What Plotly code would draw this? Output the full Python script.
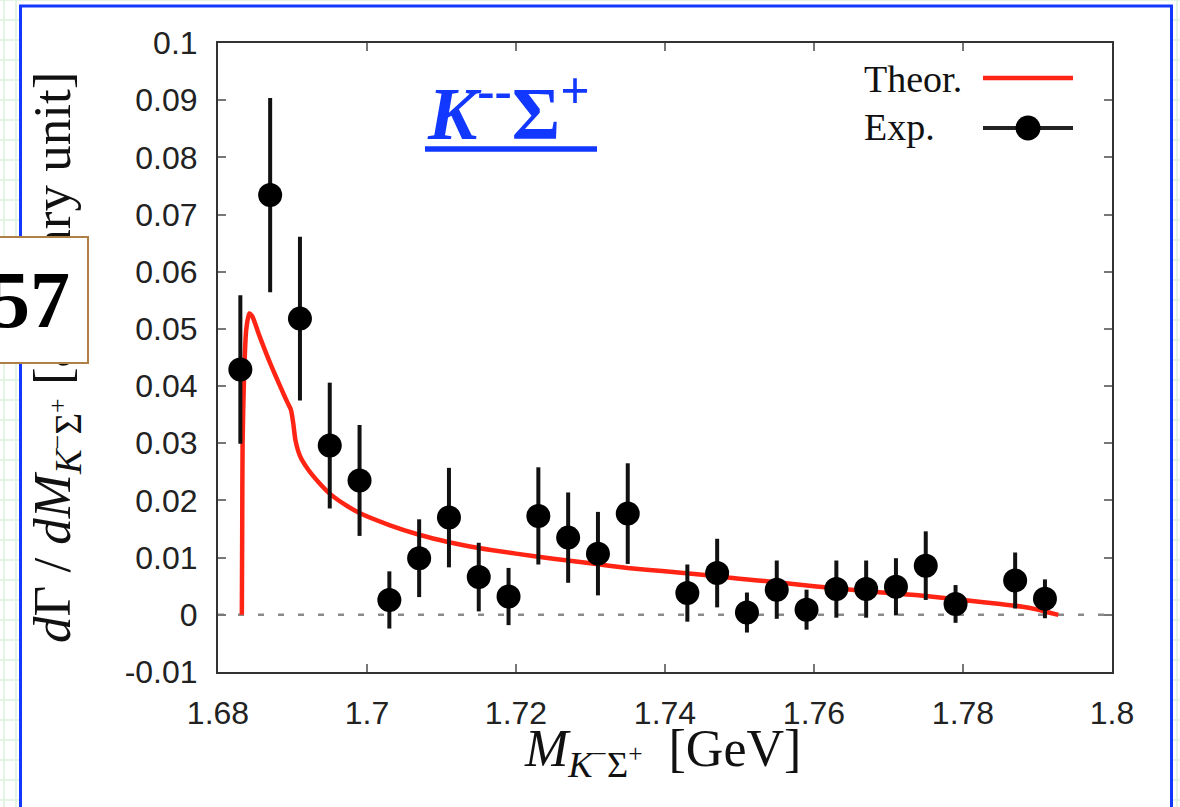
import plotly.graph_objects as go

# ---------------- data ----------------
exp_mass = [1.683, 1.687, 1.691, 1.695, 1.699, 1.703, 1.707, 1.711, 1.715, 1.719,
            1.723, 1.727, 1.731, 1.735, 1.743, 1.747, 1.751, 1.755, 1.759, 1.763,
            1.767, 1.771, 1.775, 1.779, 1.787, 1.791]
exp_value = [0.0429, 0.0734, 0.0518, 0.0296, 0.0235, 0.0026, 0.0099, 0.0170, 0.0066, 0.0032,
             0.0173, 0.0135, 0.0107, 0.0177, 0.0038, 0.0073, 0.0004, 0.0044, 0.0009, 0.0045,
             0.0045, 0.0049, 0.0086, 0.0019, 0.0060, 0.0028]
exp_error = [0.0130, 0.0170, 0.0143, 0.0110, 0.0097, 0.0050, 0.0068, 0.0087, 0.0060, 0.0050,
             0.0085, 0.0079, 0.0073, 0.0088, 0.0050, 0.0060, 0.0035, 0.0051, 0.0035, 0.0050,
             0.0050, 0.0050, 0.0060, 0.0033, 0.0049, 0.0034]

theor_mass = [1.6832, 1.68325, 1.6833, 1.6835, 1.6838, 1.6842, 1.6846, 1.6855, 1.6870, 1.6885,
              1.6893, 1.6898, 1.6901, 1.6904, 1.6910, 1.6920, 1.6935, 1.6950, 1.6970, 1.6990,
              1.7030, 1.7070, 1.7110, 1.7150, 1.7200, 1.7250, 1.7300, 1.7350, 1.7400, 1.7450,
              1.7500, 1.7550, 1.7600, 1.7650, 1.7700, 1.7750, 1.7800, 1.7850, 1.7880, 1.7900,
              1.7915, 1.7928]
theor_value = [0.0, 0.015, 0.030, 0.042, 0.050, 0.0527, 0.0522, 0.0490, 0.0440, 0.0395,
               0.0372, 0.0358, 0.0335, 0.0305, 0.0278, 0.0256, 0.0232, 0.0212, 0.0193, 0.0178,
               0.0157, 0.0140, 0.0127, 0.0117, 0.0107, 0.0098, 0.0090, 0.0082, 0.0076, 0.0070,
               0.0063, 0.0057, 0.0050, 0.0044, 0.0038, 0.0033, 0.0026, 0.0019, 0.0014, 0.0009,
               0.0004, 0.0]

x_ticks = [1.68, 1.70, 1.72, 1.74, 1.76, 1.78, 1.80]
x_tick_labels = ["1.68", "1.7", "1.72", "1.74", "1.76", "1.78", "1.8"]
y_ticks = [-0.01, 0.0, 0.01, 0.02, 0.03, 0.04, 0.05, 0.06, 0.07, 0.08, 0.09, 0.10]
y_tick_labels = ["-0.01", "0", "0.01", "0.02", "0.03", "0.04", "0.05", "0.06", "0.07", "0.08", "0.09", "0.1"]

# ---------------- layout geometry ----------------
W, H = 1180, 807
L, R, T, B = 218, 1112, 43, 672   # plot area in pixels


def px(xp):
    return (xp - L) / (R - L)


def py(yp):
    return (B - yp) / (B - T)


BLUE = "#1238ff"
RED = "#ff2414"

fig = go.Figure()

fig.add_trace(go.Scatter(
    x=theor_mass, y=theor_value, mode="lines", name="Theor.",
    line=dict(color=RED, width=4.5, shape="spline", smoothing=0.6),
    showlegend=False, hoverinfo="skip"))

fig.add_trace(go.Scatter(
    x=exp_mass, y=exp_value, mode="markers", name="Exp.",
    marker=dict(color="black", size=24),
    error_y=dict(type="data", array=exp_error, visible=True,
                 color="#111111", thickness=4, width=0),
    showlegend=False))

shapes = []
# faint graph-paper background
for yy in range(0, H + 1, 20):
    shapes.append(dict(type="line", xref="paper", yref="paper", layer="below",
                       x0=px(0), x1=px(W), y0=py(yy), y1=py(yy),
                       line=dict(color="#dcf2dc", width=1.5)))
for xx in [4, 16, 1177]:
    shapes.append(dict(type="line", xref="paper", yref="paper", layer="below",
                       x0=px(xx), x1=px(xx), y0=py(0), y1=py(H),
                       line=dict(color="#dcf2dc", width=1.5)))
# white slide frame with blue border
shapes.append(dict(type="rect", xref="paper", yref="paper", layer="below",
                   x0=px(20.5), x1=px(1171.5), y0=py(815), y1=py(6),
                   fillcolor="white", line=dict(color=BLUE, width=3)))
# zero dashed line
shapes.append(dict(type="line", xref="paper", yref="y", layer="below",
                   x0=0, x1=1, y0=0, y1=0,
                   line=dict(color="#8a8a8a", width=2.5, dash="6px,14px")))
# title underline
shapes.append(dict(type="line", xref="paper", yref="paper", layer="above",
                   x0=px(425), x1=px(597), y0=py(149), y1=py(149),
                   line=dict(color=BLUE, width=5.5)))
# legend samples
shapes.append(dict(type="line", xref="paper", yref="paper", layer="above",
                   x0=px(983), x1=px(1073), y0=py(78), y1=py(78),
                   line=dict(color=RED, width=4.5)))
shapes.append(dict(type="line", xref="paper", yref="paper", layer="above",
                   x0=px(983), x1=px(1073), y0=py(128), y1=py(128),
                   line=dict(color="#222222", width=4)))
shapes.append(dict(type="circle", xref="paper", yref="paper", layer="above",
                   xsizemode="pixel", ysizemode="pixel",
                   xanchor=px(1028), yanchor=py(128),
                   x0=-12.5, x1=12.5, y0=-12.5, y1=12.5,
                   fillcolor="black", line=dict(color="black", width=0)))

annotations = [
    # y-axis title
    dict(xref="paper", yref="paper", x=px(56), y=py(358), xanchor="center", yanchor="middle",
         textangle=-90, showarrow=False,
         text="<i>d</i>Γ / <i>dM</i><sub><i>K</i><sup>−</sup>Σ<sup>+</sup></sub> [arbitrary unit]",
         font=dict(family="Liberation Serif", size=53, color="#111111")),
    # x-axis title
    dict(xref="paper", yref="paper", x=px(662), y=py(752), xanchor="center", yanchor="middle",
         showarrow=False,
         text="<i>M</i><sub><i>K</i><sup>−</sup>Σ<sup>+</sup></sub>  [GeV]",
         font=dict(family="Liberation Serif", size=52, color="#111111")),
    # channel title
    dict(xref="paper", yref="paper", x=px(508), y=py(108), xanchor="center", yanchor="middle",
         showarrow=False,
         text="<b><i>K</i></b><b><sup>--</sup>Σ<sup>+</sup></b>",
         font=dict(family="Liberation Serif", size=74, color=BLUE)),
    # legend text
    dict(xref="paper", yref="paper", x=px(862), y=py(79), xanchor="left", yanchor="middle",
         showarrow=False, text="Theor.",
         font=dict(family="Liberation Serif", size=38, color="#111111")),
    dict(xref="paper", yref="paper", x=px(862), y=py(127), xanchor="left", yanchor="middle",
         showarrow=False, text="Exp.",
         font=dict(family="Liberation Serif", size=38, color="#111111")),
    # slide number box
    dict(xref="paper", yref="paper", x=px(89), y=py(300), xanchor="right", yanchor="middle",
         showarrow=False, text="<b>57</b>", width=110, height=120, align="center",
         valign="middle", bgcolor="white", bordercolor="#b07f45", borderwidth=2, borderpad=2,
         font=dict(family="Liberation Serif", size=80, color="black")),
]

axis_common = dict(showline=True, linecolor="#333333", linewidth=2, mirror="ticks",
                   ticks="inside", ticklen=8, tickwidth=2, tickcolor="#777777",
                   showgrid=False, zeroline=False,
                   tickfont=dict(family="Liberation Sans", size=32, color="#222222"))

fig.update_layout(
    width=W, height=H,
    margin=dict(l=L, r=W - R, t=T, b=H - B),
    paper_bgcolor="white", plot_bgcolor="rgba(0,0,0,0)",
    showlegend=False,
    xaxis=dict(range=[1.68, 1.80], tickvals=x_ticks, ticktext=x_tick_labels,
               ticklabelstandoff=12, **axis_common),
    yaxis=dict(range=[-0.01, 0.10], tickvals=y_ticks, ticktext=y_tick_labels,
               ticklabelstandoff=12, **axis_common),
    shapes=shapes,
    annotations=annotations,
)

fig.write_html("out.html")
